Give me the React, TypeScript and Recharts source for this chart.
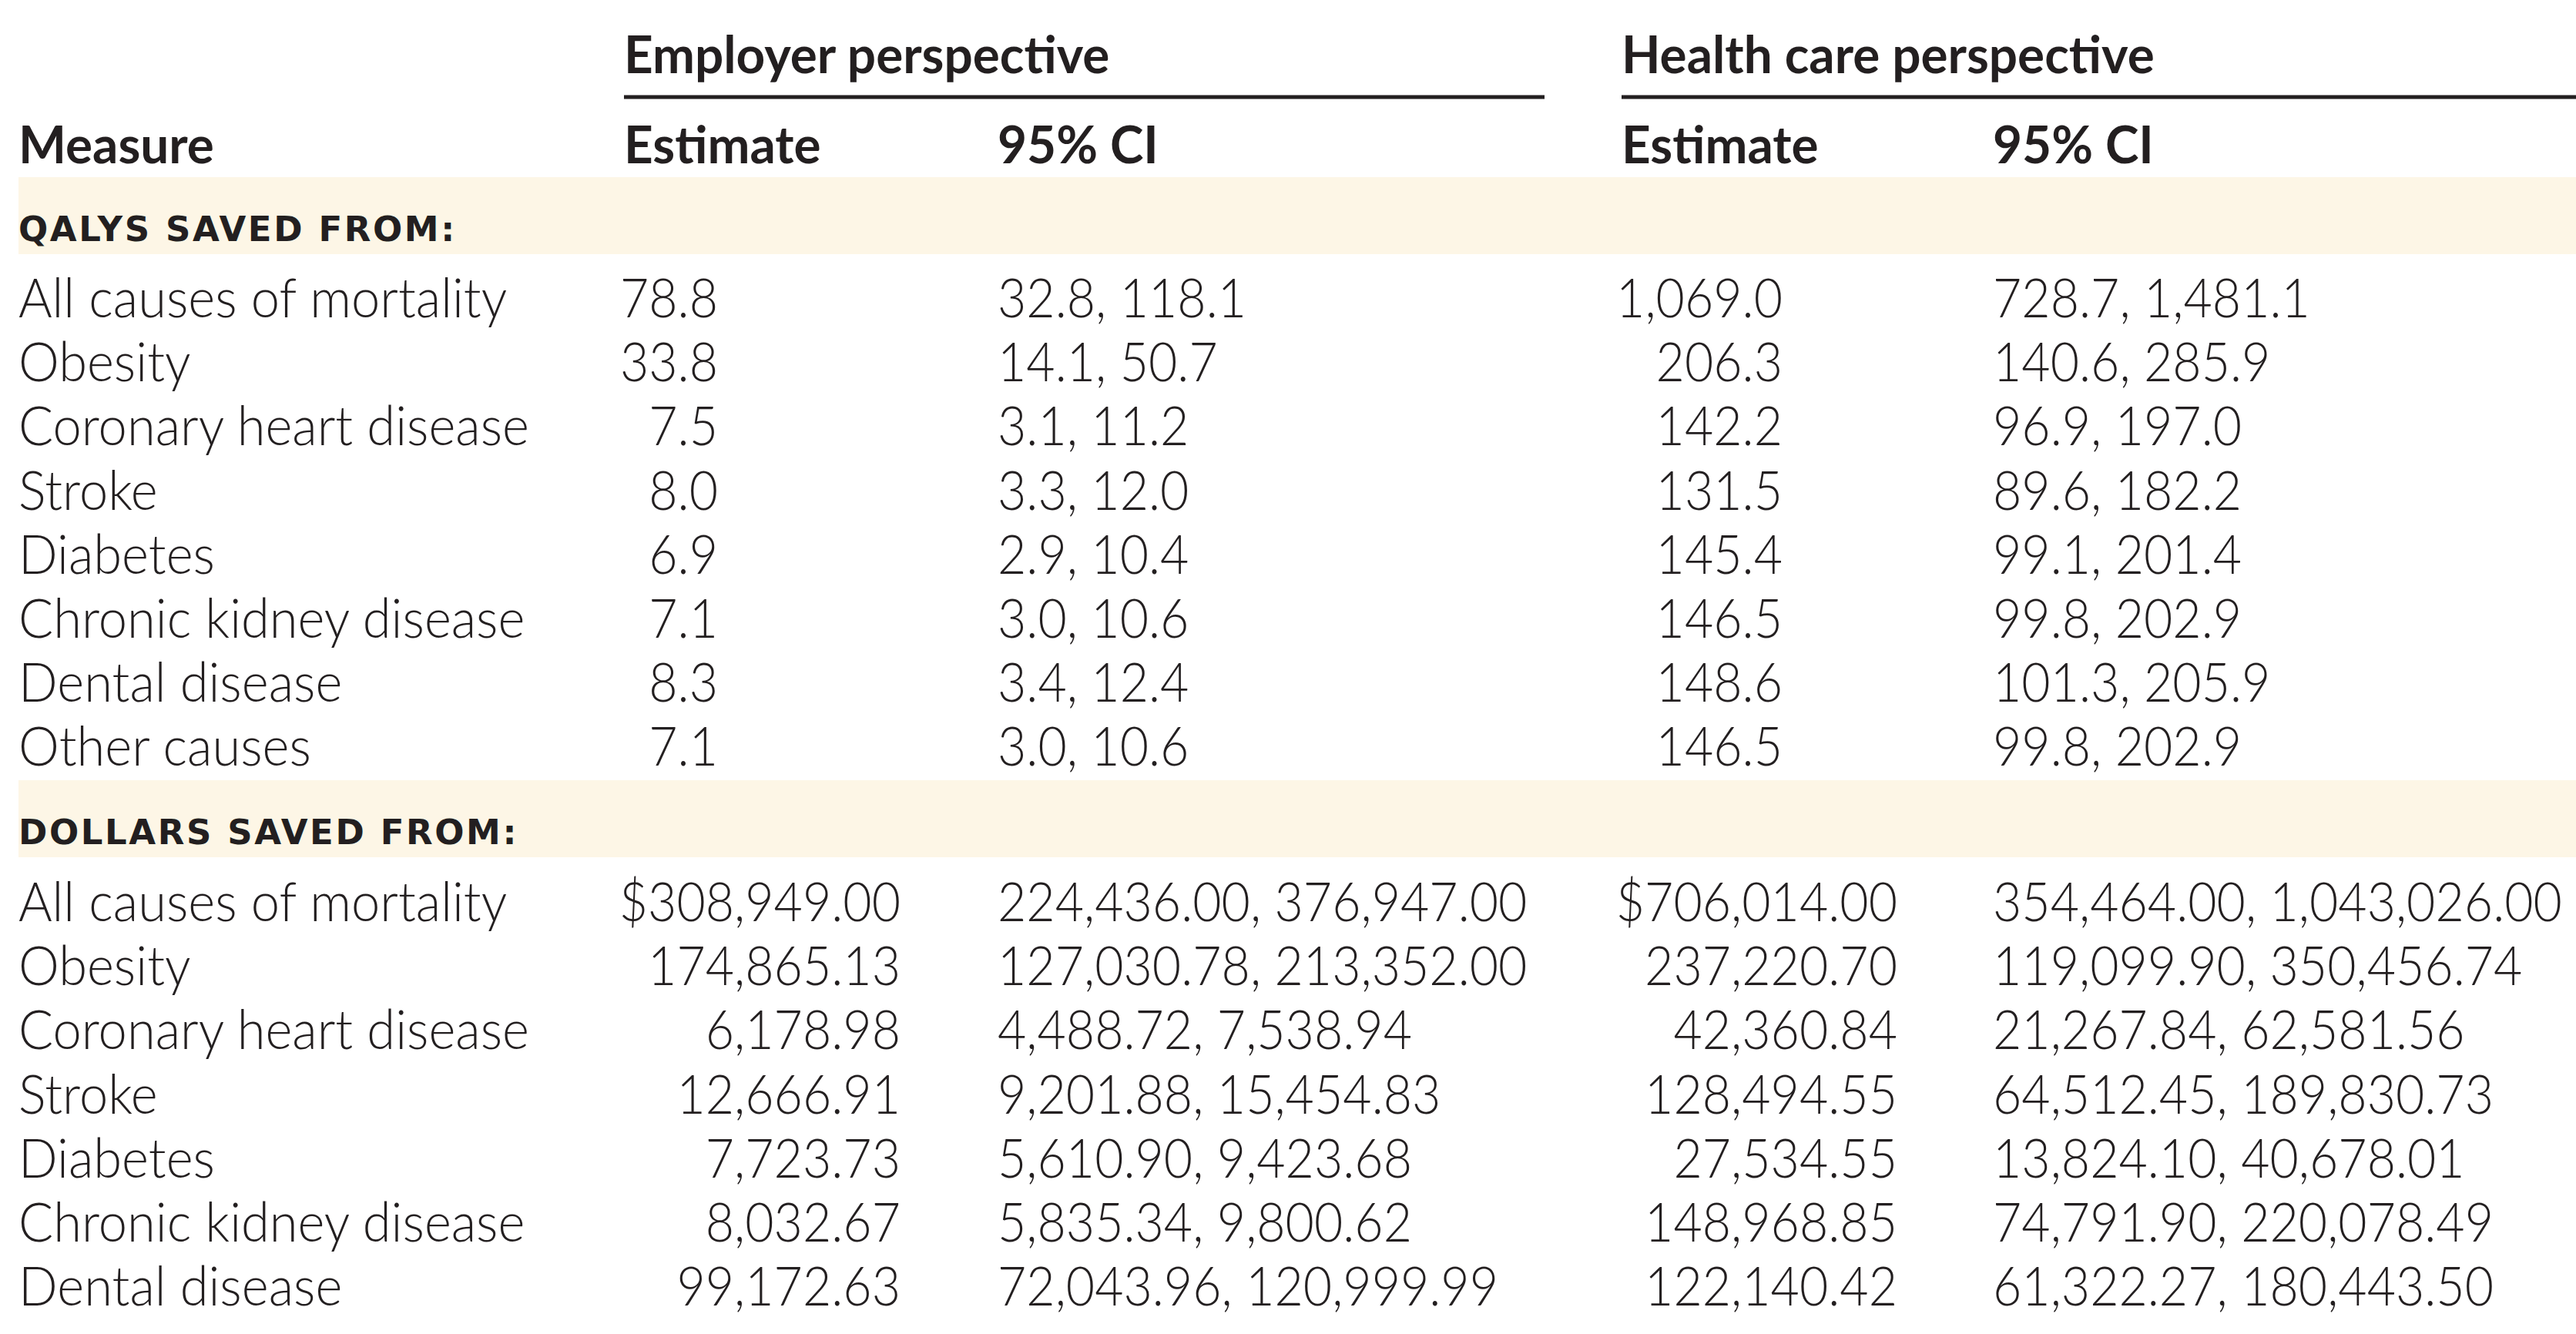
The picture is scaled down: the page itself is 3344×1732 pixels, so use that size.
import React from "react";
import {
  ScatterChart,
  Scatter,
  XAxis,
  YAxis,
  ReferenceArea,
  ReferenceLine,
} from "recharts";

const W = 3344;
const H = 1732;

// ---- table content ----
const groupHeaders = ["Employer perspective", "Health care perspective"];
const columnHeaders = ["Measure", "Estimate", "95% CI", "Estimate", "95% CI"];
const sectionLabels = ["QALYS SAVED FROM:", "DOLLARS SAVED FROM:"];

const qalyMeasures = [
  "All causes of mortality",
  "Obesity",
  "Coronary heart disease",
  "Stroke",
  "Diabetes",
  "Chronic kidney disease",
  "Dental disease",
  "Other causes",
];
const qalyEmployerEst = [78.8, 33.8, 7.5, 8.0, 6.9, 7.1, 8.3, 7.1];
const qalyEmployerLo = [32.8, 14.1, 3.1, 3.3, 2.9, 3.0, 3.4, 3.0];
const qalyEmployerHi = [118.1, 50.7, 11.2, 12.0, 10.4, 10.6, 12.4, 10.6];
const qalyHealthEst = [1069.0, 206.3, 142.2, 131.5, 145.4, 146.5, 148.6, 146.5];
const qalyHealthLo = [728.7, 140.6, 96.9, 89.6, 99.1, 99.8, 101.3, 99.8];
const qalyHealthHi = [1481.1, 285.9, 197.0, 182.2, 201.4, 202.9, 205.9, 202.9];

const dollarMeasures = [
  "All causes of mortality",
  "Obesity",
  "Coronary heart disease",
  "Stroke",
  "Diabetes",
  "Chronic kidney disease",
  "Dental disease",
];
const dollarEmployerEst = [308949.0, 174865.13, 6178.98, 12666.91, 7723.73, 8032.67, 99172.63];
const dollarEmployerLo = [224436.0, 127030.78, 4488.72, 9201.88, 5610.9, 5835.34, 72043.96];
const dollarEmployerHi = [376947.0, 213352.0, 7538.94, 15454.83, 9423.68, 9800.62, 120999.99];
const dollarHealthEst = [706014.0, 237220.7, 42360.84, 128494.55, 27534.55, 148968.85, 122140.42];
const dollarHealthLo = [354464.0, 119099.9, 21267.84, 64512.45, 13824.1, 74791.9, 61322.27];
const dollarHealthHi = [1043026.0, 350456.74, 62581.56, 189830.73, 40678.01, 220078.49, 180443.5];

// ---- layout (px) ----
const X_MEASURE = 24;
const X_EMP = 810;
const X_EMP_CI = 1295;
const X_HC = 2105;
const X_HC_CI = 2587;
const X_EMP_LINE_END = 2005;
const QALY_EST_RIGHT = [932, 2314];
const DOLLAR_EST_RIGHT = [1169, 2463];
const ROW_H = 83.2;
const Y_GROUP = 95;
const Y_RULE = 126;
const Y_HEAD = 212;
const QALY_BAND = [230, 330];
const Y_QALY_LABEL = 313;
const Y_QALY_ROW0 = 412;
const DOLLAR_BAND = [1013, 1113];
const Y_DOLLAR_LABEL = 1096;
const Y_DOLLAR_ROW0 = 1196;

const INK = "#231f20";
const BAND = "#fdf6e6";

const fmt = (v: number, d: number) =>
  v.toLocaleString("en-US", { minimumFractionDigits: d, maximumFractionDigits: d });

type Cell = { x: number; y: number; text: string; anchor: "start" | "end" };

const groupCells: Cell[] = [
  { x: X_EMP, y: Y_GROUP, text: groupHeaders[0], anchor: "start" },
  { x: X_HC, y: Y_GROUP, text: groupHeaders[1], anchor: "start" },
];
const headCells: Cell[] = [X_MEASURE, X_EMP, X_EMP_CI, X_HC, X_HC_CI].map((x, i) => ({
  x,
  y: Y_HEAD,
  text: columnHeaders[i],
  anchor: "start",
}));
const sectionCells: Cell[] = [
  { x: X_MEASURE, y: Y_QALY_LABEL, text: sectionLabels[0], anchor: "start" },
  { x: X_MEASURE, y: Y_DOLLAR_LABEL, text: sectionLabels[1], anchor: "start" },
];

const labelCells: Cell[] = [
  ...qalyMeasures.map((t, i) => ({ x: X_MEASURE, y: Y_QALY_ROW0 + i * ROW_H, text: t, anchor: "start" as const })),
  ...dollarMeasures.map((t, i) => ({ x: X_MEASURE, y: Y_DOLLAR_ROW0 + i * ROW_H, text: t, anchor: "start" as const })),
];

const numCells: Cell[] = [];
qalyMeasures.forEach((_, i) => {
  const y = Y_QALY_ROW0 + i * ROW_H;
  numCells.push({ x: QALY_EST_RIGHT[0], y, text: fmt(qalyEmployerEst[i], 1), anchor: "end" });
  numCells.push({ x: X_EMP_CI, y, text: `${fmt(qalyEmployerLo[i], 1)}, ${fmt(qalyEmployerHi[i], 1)}`, anchor: "start" });
  numCells.push({ x: QALY_EST_RIGHT[1], y, text: fmt(qalyHealthEst[i], 1), anchor: "end" });
  numCells.push({ x: X_HC_CI, y, text: `${fmt(qalyHealthLo[i], 1)}, ${fmt(qalyHealthHi[i], 1)}`, anchor: "start" });
});
dollarMeasures.forEach((_, i) => {
  const y = Y_DOLLAR_ROW0 + i * ROW_H;
  const pre = i === 0 ? "$" : "";
  numCells.push({ x: DOLLAR_EST_RIGHT[0], y, text: pre + fmt(dollarEmployerEst[i], 2), anchor: "end" });
  numCells.push({ x: X_EMP_CI, y, text: `${fmt(dollarEmployerLo[i], 2)}, ${fmt(dollarEmployerHi[i], 2)}`, anchor: "start" });
  numCells.push({ x: DOLLAR_EST_RIGHT[1], y, text: pre + fmt(dollarHealthEst[i], 2), anchor: "end" });
  numCells.push({ x: X_HC_CI, y, text: `${fmt(dollarHealthLo[i], 2)}, ${fmt(dollarHealthHi[i], 2)}`, anchor: "start" });
});

const textShape =
  (font: { family: string; size: number; weight: number; scaleX?: number; spacing?: number }) =>
  (props: any) => {
    const { cx, cy, payload } = props;
    const sx = font.scaleX ?? 1;
    return (
      <text
        transform={`translate(${cx},${cy}) scale(${sx},1)`}
        textAnchor={payload.anchor}
        fontFamily={font.family}
        fontSize={font.size}
        fontWeight={font.weight}
        letterSpacing={font.spacing ?? 0}
        fill={INK}
      >
        {payload.text}
      </text>
    );
  };

const headFont = { family: "Lato", size: 67, weight: 700, scaleX: 0.98 };
const sectionFont = { family: "DejaVu Sans", size: 45, weight: 700, spacing: 2.6 };
const labelFont = { family: "Lato", size: 70, weight: 300, scaleX: 0.955 };
const numFont = { family: "Lato", size: 70, weight: 300, scaleX: 0.92 };

export default function App() {
  return (
    <div style={{ position: "absolute", left: 0, top: 0, width: W, height: H, background: "#ffffff" }}>
      <ScatterChart width={W} height={H} margin={{ top: 0, right: 0, bottom: 0, left: 0 }}>
        <XAxis type="number" dataKey="x" domain={[0, W]} hide />
        <YAxis type="number" dataKey="y" domain={[0, H]} reversed hide />
        <ReferenceArea x1={X_MEASURE} x2={W} y1={QALY_BAND[0]} y2={QALY_BAND[1]} fill={BAND} fillOpacity={1} stroke="none" />
        <ReferenceArea x1={X_MEASURE} x2={W} y1={DOLLAR_BAND[0]} y2={DOLLAR_BAND[1]} fill={BAND} fillOpacity={1} stroke="none" />
        <ReferenceLine
          segment={[{ x: X_EMP, y: Y_RULE }, { x: X_EMP_LINE_END, y: Y_RULE }]}
          stroke={INK}
          strokeWidth={5}
        />
        <ReferenceLine
          segment={[{ x: X_HC, y: Y_RULE }, { x: W, y: Y_RULE }]}
          stroke={INK}
          strokeWidth={5}
        />
        <Scatter data={groupCells} shape={textShape(headFont)} isAnimationActive={false} />
        <Scatter data={headCells} shape={textShape(headFont)} isAnimationActive={false} />
        <Scatter data={sectionCells} shape={textShape(sectionFont)} isAnimationActive={false} />
        <Scatter data={labelCells} shape={textShape(labelFont)} isAnimationActive={false} />
        <Scatter data={numCells} shape={textShape(numFont)} isAnimationActive={false} />
      </ScatterChart>
    </div>
  );
}
